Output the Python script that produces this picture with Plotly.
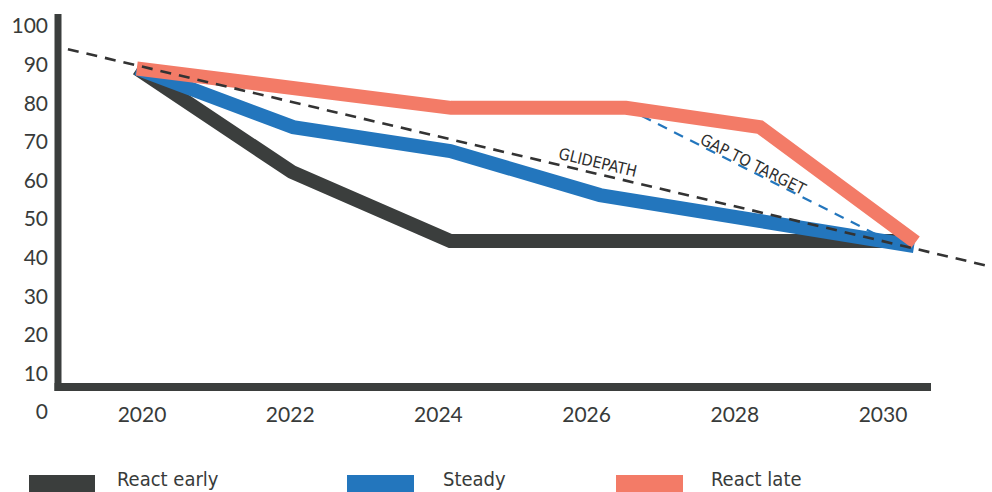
import plotly.graph_objects as go

# ---- data ----
years_early = [2019.93, 2022.02, 2024.16, 2030.39]
react_early = [89.0, 62.2, 44.3, 44.3]

years_steady = [2019.93, 2022.04, 2024.16, 2026.18, 2030.42]
steady = [89.0, 73.8, 67.6, 56.2, 43.0]

years_late = [2019.93, 2024.17, 2026.53, 2028.34, 2030.44]
react_late = [89.0, 78.8, 78.8, 73.8, 44.0]

glide_years = [2019.0, 2031.47]
glidepath = [94.0, 37.6]

gap_years = [2026.53, 2030.27]
gap_to_target = [78.8, 42.5]

x_ticks = [2020, 2022, 2024, 2026, 2028, 2030]
y_ticks = [0, 10, 20, 30, 40, 50, 60, 70, 80, 90, 100]
series_names = ["React early", "Steady", "React late"]

# ---- styles ----
DARK = "#3b3e3d"
BLUE = "#2376bd"
SALMON = "#f37b67"
TEXT = "#383b3a"
TICK_FONT = dict(family="Lato, 'Open Sans', sans-serif", size=21, color=TEXT)
NARROW = "'DejaVu Sans Condensed', 'Liberation Sans Narrow', 'Arial Narrow', sans-serif"

W, H = 992, 492
ML, MR, MT, MB = 58, 0, 0, 62
PW, PH = W - ML - MR, H - MT - MB


def fx(px):
    return (px - ML) / PW


def fy(py):
    return (MT + PH - py) / PH


fig = go.Figure()

fig.add_trace(go.Scatter(x=gap_years, y=gap_to_target, mode="lines",
                         line=dict(color=BLUE, width=2.2, dash="10px,8px"),
                         showlegend=False, hoverinfo="skip"))
fig.add_trace(go.Scatter(x=years_early, y=react_early, mode="lines", name=series_names[0],
                         line=dict(color=DARK, width=14), showlegend=False))
fig.add_trace(go.Scatter(x=years_steady, y=steady, mode="lines", name=series_names[1],
                         line=dict(color=BLUE, width=14), showlegend=False))
fig.add_trace(go.Scatter(x=years_late, y=react_late, mode="lines", name=series_names[2],
                         line=dict(color=SALMON, width=14), showlegend=False))
fig.add_trace(go.Scatter(x=glide_years, y=glidepath, mode="lines",
                         line=dict(color="#333333", width=2.6, dash="11px,8px"),
                         showlegend=False, hoverinfo="skip"))

shapes = [
    # y axis bar
    dict(type="rect", xref="paper", yref="paper", x0=fx(54.5), x1=fx(61.5),
         y0=fy(391), y1=fy(14), fillcolor=DARK, line=dict(width=0), layer="below"),
    # x axis bar
    dict(type="rect", xref="paper", yref="paper", x0=fx(54.5), x1=fx(931),
         y0=fy(391), y1=fy(383), fillcolor=DARK, line=dict(width=0), layer="below"),
]

# legend swatches + labels
legend_swatch_x = [(29, 95), (347, 414), (616, 683)]
legend_text_x = [115, 441, 709]
legend_colors = [DARK, BLUE, SALMON]
annotations = []
for (x0, x1), tx, col, name in zip(legend_swatch_x, legend_text_x, legend_colors, series_names):
    shapes.append(dict(type="rect", xref="paper", yref="paper", x0=fx(x0), x1=fx(x1),
                       y0=fy(495), y1=fy(475), fillcolor=col, line=dict(width=0)))
    annotations.append(dict(text=name, xref="paper", yref="paper", x=fx(tx), y=fy(479),
                            xanchor="left", yanchor="middle", showarrow=False,
                            font=dict(family=NARROW, size=20, color=TEXT)))

annotations.append(dict(text="GLIDEPATH", x=2026.15, y=64.6, textangle=13.2, showarrow=False,
                        font=dict(family=NARROW, size=16, color="#2e2e2e")))
annotations.append(dict(text="GAP TO TARGET", x=2028.25, y=64.0, textangle=26.7, showarrow=False,
                        font=dict(family=NARROW, size=16, color="#2e2e2e")))

fig.update_layout(
    width=W, height=H,
    margin=dict(l=ML, r=MR, t=MT, b=MB, pad=0),
    paper_bgcolor="white", plot_bgcolor="white",
    showlegend=False,
    shapes=shapes,
    annotations=annotations,
    xaxis=dict(range=[2018.866, 2031.471], tickvals=x_ticks, ticktext=[str(v) for v in x_ticks],
               showgrid=False, zeroline=False, showline=False, ticks="",
               anchor="free", position=fy(392), ticklabelstandoff=8, tickfont=TICK_FONT),
    yaxis=dict(range=[-4.663, 106.74], tickvals=y_ticks, ticktext=[str(v) for v in y_ticks],
               showgrid=False, zeroline=False, showline=False, ticks="",
               ticklabelstandoff=9, tickfont=TICK_FONT),
)

fig.write_html("out.html")
